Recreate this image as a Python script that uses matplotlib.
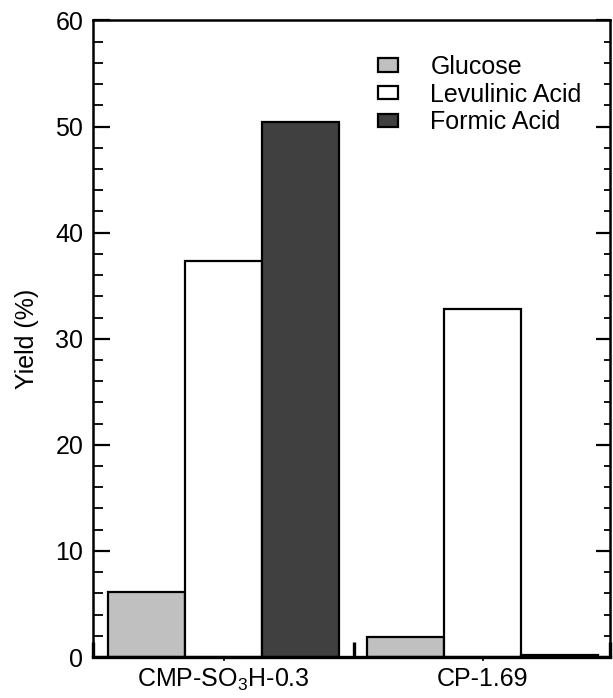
import numpy as np
import matplotlib.pyplot as plt
from matplotlib.ticker import MultipleLocator, FixedLocator, NullFormatter

plt.rcParams['font.family'] = ['Liberation Sans', 'DejaVu Sans']
plt.rcParams['mathtext.fontset'] = 'custom'
plt.rcParams['mathtext.rm'] = 'Liberation Sans'

# yields (%) per catalyst
catalysts = ['CMP-SO$_3$H-0.3', 'CP-1.69']
products = ['Glucose', 'Levulinic Acid', 'Formic Acid']
glucose = [6.1, 1.9]
levulinic = [37.3, 32.8]
formic = [50.4, 0.2]
colors = ['#c0c0c0', '#ffffff', '#404040']

FS = 18

fig = plt.figure(figsize=(6.13, 6.98), dpi=100)
ax = fig.add_axes([0.1517, 0.0587, 0.8433, 0.912])

centers = np.array([0.0, 3.365])
for i, (vals, name, c) in enumerate(zip([glucose, levulinic, formic], products, colors)):
    ax.bar(centers + (i - 1), vals, width=1.0, color=c, edgecolor='black',
           linewidth=1.6, label=name, zorder=2)

ax.set_xlim(-1.695, 5.015)
ax.set_ylim(0, 60)

ax.yaxis.set_major_locator(MultipleLocator(10))
ax.yaxis.set_minor_locator(MultipleLocator(2))
ax.tick_params(axis='y', which='major', direction='in', length=12, width=1.6,
               right=True, labelsize=FS, pad=7)
ax.tick_params(axis='y', which='minor', direction='in', length=7, width=1.3,
               right=True)
# shorter ticks along the right spine
for t in ax.yaxis.get_minor_ticks():
    t.tick2line.set_markersize(4)
for t in ax.yaxis.get_major_ticks():
    t.tick2line.set_markersize(10)

# group labels on minor ticks, separators as major ticks
ax.xaxis.set_major_locator(FixedLocator([-1.695, 1.695, 5.015]))
ax.xaxis.set_major_formatter(NullFormatter())
ax.xaxis.set_minor_locator(FixedLocator(centers))
ax.set_xticklabels(catalysts, minor=True)
ax.tick_params(axis='x', which='major', direction='in', length=11, width=2.4)
ax.tick_params(axis='x', which='minor', direction='out', length=3, width=1.2,
               labelsize=FS, pad=4)

for s in ax.spines.values():
    s.set_linewidth(1.8)
ax.spines['bottom'].set_linewidth(2.4)

ax.set_ylabel('Yield (%)', fontsize=FS, labelpad=12)

ax.legend(loc='upper left', bbox_to_anchor=(0.551, 0.946), frameon=False,
          fontsize=FS, handlelength=0.8, handleheight=0.45, handletextpad=1.3,
          labelspacing=0.15, borderpad=0, borderaxespad=0)

fig.savefig('out.png', dpi=100)
